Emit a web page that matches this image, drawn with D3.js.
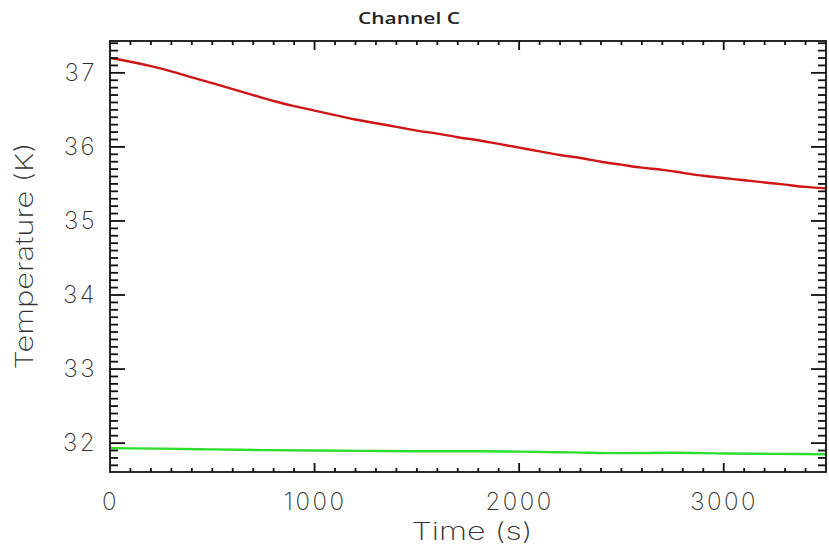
<!DOCTYPE html>
<html>
<head>
<meta charset="utf-8">
<script src="https://cdn.jsdelivr.net/npm/d3@7"></script>
<style>
  body{margin:0;background:#fff;}
  svg{display:block;}
</style>
</head>
<body>
<svg></svg>
<script>
// time in seconds
let timeRed=[0,100,200,300,400,500,600,700,800,900,1000,1100,1200,1300,1400,1500,1600,1700,1800,1900,2000,2100,2200,2300,2400,2500,2600,2700,2800,2900,3000,3100,3200,3300,3400,3500];
let tempRed=[37.20,37.15,37.09,37.02,36.94,36.86,36.78,36.70,36.62,36.55,36.49,36.43,36.37,36.32,36.27,36.22,36.18,36.13,36.09,36.04,35.99,35.94,35.89,35.85,35.80,35.76,35.72,35.69,35.65,35.61,35.58,35.55,35.52,35.49,35.46,35.44];
let timeGreen=[0,250,500,750,1000,1250,1500,1750,2000,2250,2500,2750,3000,3250,3500];
let tempGreen=[31.93,31.925,31.915,31.905,31.90,31.895,31.89,31.89,31.885,31.875,31.865,31.87,31.86,31.855,31.85];
let xMajor=[0,1000,2000,3000];
let yMajor=[32,33,34,35,36,37];

let width=829;
let height=550;
let padLeft=110, padRight=826, padTop=41, padBottom=472;
const svg=d3.select('svg').attr('width',width).attr('height',height);

let xScale=d3.scaleLinear().domain([0,3500]).range([padLeft,padRight]);
let yScale=d3.scaleLinear().domain([31.61,37.43]).range([padBottom,padTop]);

let xMinor=d3.range(1,35,1).map(d=>d*100).filter(d=>d%1000!=0);
let yMinor=d3.range(317,375,1).map(d=>d/10).filter(d=>Math.abs(d-Math.round(d))>0.01);

const labelFont='Inter, "DejaVu Sans", sans-serif';
const tw=1.8; // tick thickness

// ticks as small filled rects, pointing into the plot on every side
let drawTicks=()=>{
  let tg=svg.append('g').attr('fill','#111');
  let xt=xMinor.map(v=>[v,4]).concat(xMajor.filter(d=>d>0).map(v=>[v,9]));
  let yt=yMinor.map(v=>[v,8]).concat(yMajor.map(v=>[v,15]));

  tg.selectAll('rect.xb').data(xt).enter().append('rect').attr('class','xb')
    .attr('x',d=>xScale(d[0])-tw/2).attr('y',d=>padBottom-d[1])
    .attr('width',tw).attr('height',d=>d[1]);
  tg.selectAll('rect.xt').data(xt).enter().append('rect').attr('class','xt')
    .attr('x',d=>xScale(d[0])-tw/2).attr('y',padTop)
    .attr('width',tw).attr('height',d=>d[1]);
  tg.selectAll('rect.yl').data(yt).enter().append('rect').attr('class','yl')
    .attr('x',padLeft).attr('y',d=>yScale(d[0])-tw/2)
    .attr('width',d=>d[1]).attr('height',tw);
  tg.selectAll('rect.yr').data(yt).enter().append('rect').attr('class','yr')
    .attr('x',d=>padRight-d[1]).attr('y',d=>yScale(d[0])-tw/2)
    .attr('width',d=>d[1]).attr('height',tw);

  svg.append('rect')
    .attr('x',padLeft).attr('y',padTop)
    .attr('width',padRight-padLeft).attr('height',padBottom-padTop)
    .attr('fill','none').attr('stroke','#111').attr('stroke-width',1.8);
}

let drawAxes=()=>{
  let bx=svg.append('g').attr('transform','translate(0,'+padBottom+')')
    .call(d3.axisBottom(xScale).tickValues(xMajor).tickSize(0).tickPadding(21).tickFormat(d3.format('d')));
  let ly=svg.append('g').attr('transform','translate('+padLeft+',0)')
    .call(d3.axisLeft(yScale).tickValues(yMajor).tickSize(0).tickPadding(13).tickFormat(d3.format('d')));

  [bx,ly].forEach(g=>{
    g.select('.domain').remove();
    g.selectAll('text')
      .attr('fill','#333')
      .style('font-family',labelFont)
      .style('font-size','24px')
      .style('font-weight','200')
      .style('letter-spacing','2.5px');
  });
}

let drawLines=()=>{
  let line=d3.line().x(d=>xScale(d[0])).y(d=>yScale(d[1])).curve(d3.curveMonotoneX);
  svg.append('path')
    .datum(d3.zip(timeGreen,tempGreen))
    .attr('fill','none')
    .attr('stroke','#2ede2e')
    .attr('stroke-width',2.4)
    .attr('d',line);
  svg.append('path')
    .datum(d3.zip(timeRed,tempRed))
    .attr('fill','none')
    .attr('stroke','#cf1515')
    .attr('stroke-width',2.4)
    .attr('d',line);
}

let drawText=()=>{
  svg.append('text')
    .attr('x',409).attr('y',24)
    .attr('text-anchor','middle')
    .attr('textLength',102).attr('lengthAdjust','spacingAndGlyphs')
    .style('font-family','"Open Sans", sans-serif')
    .style('font-weight','600')
    .style('font-size','17px')
    .attr('fill','#222')
    .text('Channel C');

  svg.append('text')
    .attr('x',472).attr('y',540)
    .attr('text-anchor','middle')
    .attr('textLength',121).attr('lengthAdjust','spacingAndGlyphs')
    .style('font-family',labelFont)
    .style('font-weight','200')
    .style('font-size','24px')
    .attr('fill','#333')
    .text('Time (s)');

  svg.append('text')
    .attr('transform','translate(33,256) rotate(-90)')
    .attr('text-anchor','middle')
    .attr('textLength',227).attr('lengthAdjust','spacingAndGlyphs')
    .style('font-family',labelFont)
    .style('font-weight','200')
    .style('font-size','24px')
    .attr('fill','#333')
    .text('Temperature (K)');
}

drawLines();
drawTicks();
drawAxes();
drawText();
</script>
</body>
</html>
